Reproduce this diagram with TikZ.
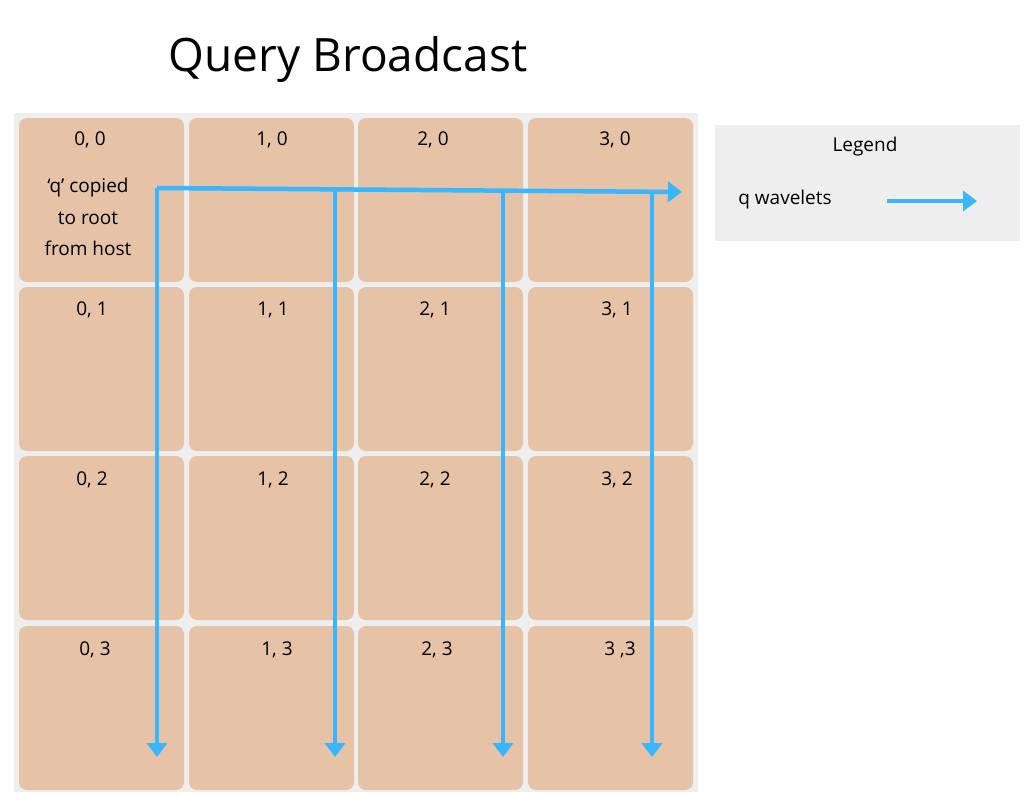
\documentclass[tikz,border=0pt]{standalone}
\usepackage{fontspec}
\setmainfont{Open Sans}
\usetikzlibrary{arrows.meta}
\definecolor{cellc}{HTML}{E6C2A6}
\definecolor{bgc}{HTML}{EEEEEE}
\definecolor{arr}{HTML}{38B6FF}
\begin{document}
\begin{tikzpicture}[x=1pt,y=-1pt,
  cell/.style={fill=cellc,rounded corners=8pt,draw=none},
  lbl/.style={font=\fontsize{19}{22}\selectfont,inner sep=0pt},
  wave/.style={draw=arr,line width=4.5pt,-{Triangle[width=20pt,length=14pt]}}]
\useasboundingbox (0,0) rectangle (1035,806);
\node[font=\fontsize{46}{52}\selectfont] (title) at (348,60) {Query Broadcast};
\fill[bgc] (14,113) rectangle (698,792);
\foreach \c/\xa in {0/19,1/189,2/358,3/528}{
  \foreach \r/\ya in {0/118,1/287,2/456,3/626}{
    \path[cell] (\xa,\ya) rectangle ++(165,164);
  }}
\foreach \t/\x/\y [count=\i] in {{0, 0}/90/140,{1, 0}/272/140,{2, 0}/433/140,{3, 0}/615/140,
  {0, 1}/92/310,{1, 1}/273/310,{2, 1}/435/310,{3, 1}/617/310,
  {0, 2}/92/480,{1, 2}/273/480,{2, 2}/435/480,{3, 2}/617/480,
  {0, 3}/95/650,{1, 3}/277/650,{2, 3}/437/650,{3 ,3}/620/650}
  \node[lbl] (l\i) at (\x,\y) {\t};
\node[lbl,align=center,font=\fontsize{19}{31.5}\selectfont] (host) at (88,217) {‘q’ copied\\to root\\from host};
\coordinate (s) at (157,188);
\coordinate (he) at (682,192);
\coordinate (b1) at (335,189);
\coordinate (b2) at (503,190);
\coordinate (b3) at (652,191);
\coordinate (e0) at (157,757);
\coordinate (e1) at (335,757);
\coordinate (e2) at (503,757);
\coordinate (e3) at (652,757);
\draw[wave] (s) -- (he);
\draw[wave] (s) -- (e0);
\draw[wave] (b1) -- (e1);
\draw[wave] (b2) -- (e2);
\draw[wave] (b3) -- (e3);
\fill[bgc] (715,125) rectangle (1020,241);
\node[lbl] (leg) at (865,147) {Legend};
\node[lbl] (qw) at (785,200) {q wavelets};
\coordinate (la) at (887,201);
\coordinate (lb) at (977,201);
\draw[wave] (la) -- (lb);
\end{tikzpicture}
\end{document}
